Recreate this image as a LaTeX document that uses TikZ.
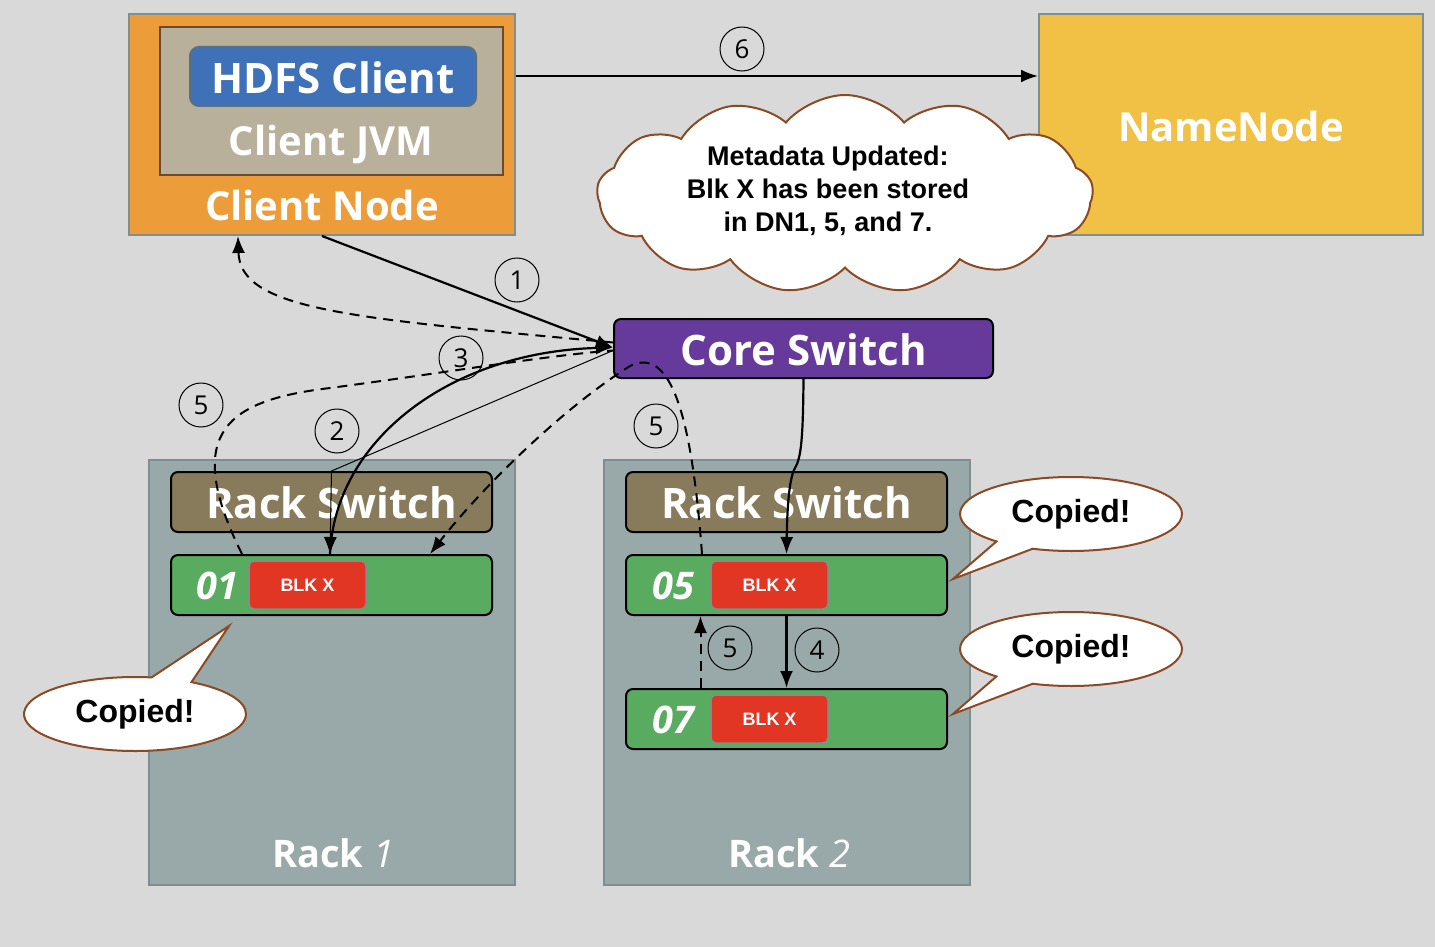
\documentclass[tikz,border=0pt]{standalone}
\usepackage{fontspec}
\setmainfont{Open Sans}
\newfontfamily\arialf{Liberation Sans}
\usetikzlibrary{arrows.meta,shapes.symbols,shapes.callouts,calc}
\definecolor{bgc}{HTML}{D9D9D9}
\definecolor{orangec}{HTML}{EC9D3A}
\definecolor{tanc}{HTML}{B8B09A}
\definecolor{bluec}{HTML}{3F71B9}
\definecolor{yellowc}{HTML}{F0C145}
\definecolor{purplec}{HTML}{663A9A}
\definecolor{rackc}{HTML}{99A8A8}
\definecolor{rswc}{HTML}{877B5C}
\definecolor{greenc}{HTML}{58AB5F}
\definecolor{redc}{HTML}{E13624}
\definecolor{brownl}{HTML}{8B4A24}
\definecolor{grayb}{HTML}{7F8F8F}
\definecolor{jvmb}{HTML}{6B4A2F}
\definecolor{hdfsb}{HTML}{5A7080}
\begin{document}
\begin{tikzpicture}[x=1pt,y=-1pt,
  box/.style={inner sep=0, line width=2pt},
  rbox/.style={inner sep=0, line width=2pt, draw=black, rounded corners=7pt},
  lbl/.style={text=white, inner sep=0, font=\fontsize{42}{48}\selectfont\bfseries},
  dnlbl/.style={text=white, inner sep=0, font=\fontsize{38}{40}\selectfont\bfseries\itshape},
  blk/.style={fill=redc, draw=grayb, line width=1.5pt, rounded corners=5pt, minimum width=117, minimum height=48, inner sep=0, text=white, font=\arialf\bfseries\fontsize{18}{18}\selectfont},
  circ/.style={circle, draw=black, line width=1pt, minimum size=44, inner sep=0, font=\fontsize{26}{26}\selectfont},
  conn/.style={line width=2.2pt, -{Latex[length=17pt,width=13pt]}},
  dconn/.style={line width=2pt, dash pattern=on 10pt off 7pt, -{Latex[length=17pt,width=13pt]}},
  dline/.style={line width=2pt, dash pattern=on 10pt off 7pt},
  callt/.style={ellipse callout, draw=brownl, fill=white, line width=2pt, minimum width=222, minimum height=74, inner sep=0, callout pointer arc=22, font=\arialf\bfseries\fontsize{32}{32}\selectfont}
]
\useasboundingbox[fill=bgc] (0,0) rectangle (1435,947);

% client node
\node[box, fill=orangec, draw=grayb, minimum width=386, minimum height=221] (client) at (322,124.5) {};
\node[box, fill=tanc, draw=jvmb, minimum width=343, minimum height=148] (jvm) at (331.5,101) {};
\node[box, fill=bluec, draw=hdfsb, rounded corners=9pt, minimum width=286, minimum height=59] (hdfs) at (333,76.5) {};
\node[lbl] (hdfslbl) at (333,78) {HDFS Client};
\node[lbl, font=\fontsize{40}{44}\selectfont\bfseries] (jvmlbl) at (331,145) {Client JVM};
\node[lbl, font=\fontsize{40}{44}\selectfont\bfseries] (clientlbl) at (322,205) {Client Node};

% namenode
\node[box, fill=yellowc, draw=grayb, minimum width=384, minimum height=221] (nn) at (1231,124.5) {};
\node[lbl, font=\fontsize{40}{44}\selectfont\bfseries] (nnlbl) at (1231,127) {NameNode};

% cloud
\node[cloud, draw=brownl, fill=white, line width=2pt, cloud puffs=13, cloud puff arc=100, cloud ignores aspect, minimum width=496, minimum height=198, inner sep=0] (cloud) at (845,194) {};
\node[align=center, inner sep=0, font=\arialf\bfseries\fontsize{27}{33}\selectfont] (cloudtext) at (828,191) {Metadata Updated:\\Blk X has been stored\\in DN1, 5, and 7.};

% core switch
\node[rbox, fill=purplec, minimum width=379, minimum height=59] (core) at (803.5,348.5) {};
\node[lbl] (corelbl) at (804,350) {Core Switch};

% racks
\node[box, fill=rackc, draw=grayb, minimum width=366, minimum height=425] (rack1) at (332,672.5) {};
\node[box, fill=rackc, draw=grayb, minimum width=366, minimum height=425] (rack2) at (787,672.5) {};
\node[lbl, font=\fontsize{38}{40}\selectfont\bfseries] (rack1lbl) at (333,853) {Rack \textit{\mdseries 1}};
\node[lbl, font=\fontsize{38}{40}\selectfont\bfseries] (rack2lbl) at (789,853) {Rack \textit{\mdseries 2}};

\node[rbox, fill=rswc, minimum width=321, minimum height=60] (rs1) at (331.5,502) {};
\node[lbl] (rs1lbl) at (331.5,503) {Rack Switch};
\node[rbox, fill=rswc, minimum width=321, minimum height=60] (rs2) at (786.5,502) {};
\node[lbl] (rs2lbl) at (786.5,503) {Rack Switch};

% data nodes
\node[rbox, fill=greenc, minimum width=321, minimum height=60] (dn1) at (331.5,585) {};
\node[dnlbl] (dn1lbl) at (217,586) {01};
\node[blk] (blk1) at (307.5,585) {BLK X};
\node[rbox, fill=greenc, minimum width=321, minimum height=60] (dn5) at (786.5,585) {};
\node[dnlbl] (dn5lbl) at (673,586) {05};
\node[blk] (blk5) at (769.5,585) {BLK X};
\node[rbox, fill=greenc, minimum width=321, minimum height=60] (dn7) at (786.5,719) {};
\node[dnlbl] (dn7lbl) at (673,720) {07};
\node[blk] (blk7) at (769.5,719) {BLK X};

% callouts
\coordinate (tip1) at (229,626);
\coordinate (tip5) at (953,579);
\coordinate (tip7) at (953,714);
\node[callt, callout absolute pointer={(tip1)}] (c1) at (135,714) {Copied!};
\node[callt, callout absolute pointer={(tip5)}] (c5) at (1071,514) {Copied!};
\node[callt, callout absolute pointer={(tip7)}] (c7) at (1071,649) {Copied!};

% connectors
\draw[conn] ([yshift=48.5pt]client.east) -- ([yshift=48.5pt]nn.west);
\draw[conn] (client.south) -- ([yshift=1pt]core.west);
\draw[line width=1pt, -{Latex[length=17pt,width=13pt]}] ([yshift=-2pt]core.west) -- (rs1.north) -- ([xshift=-1.5pt]dn1.north);
\draw[conn] ([xshift=-1.5pt]dn1.north) .. controls (335,440) and (450,352) .. ([yshift=1pt]core.west);
\draw[dconn] ([yshift=6pt]core.west) .. controls (350,318) and (240,310) .. ([xshift=-84pt]client.south);
\draw[dline] ([xshift=-89.5pt]dn1.north) .. controls (180,430) and (230,400) .. (330,388) .. controls (450,372) and (550,355) .. ([yshift=-2pt]core.west);
\draw[dconn] ([xshift=-84.5pt]dn5.north) .. controls (692,420) and (672,345) .. (630,366) .. controls (560,410) and (480,490) .. ([xshift=98.5pt]dn1.north);
\draw[conn] (core.south) .. controls (803,440) and (801,458) .. (795,468) .. controls (788,480) and (787,520) .. (dn5.north);
\draw[conn] (dn5.south) -- (dn7.north);
\draw[dconn] ([xshift=-86pt]dn7.north) -- ([xshift=-86pt]dn5.south);

% step labels
\node[circ] (s6) at (742,49) {6};
\node[circ] (s1) at (517,280) {1};
\node[circ] (s2) at (337,431) {2};
\node[circ] (s3) at (461,358) {3};
\node[circ] (s5a) at (201,405) {5};
\node[circ] (s5b) at (656,426) {5};
\node[circ] (s5c) at (730,648) {5};
\node[circ] (s4) at (817,650) {4};
\end{tikzpicture}
\end{document}
